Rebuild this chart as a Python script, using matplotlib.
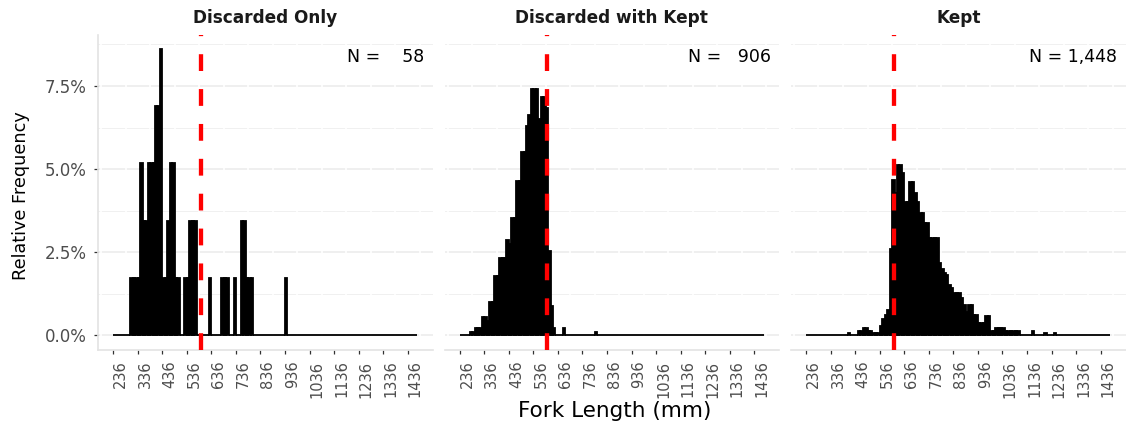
import matplotlib.pyplot as plt
import numpy as np

plt.rcParams['font.family'] = 'DejaVu Sans'

# histogram bins: 10 mm wide, starting at 236 mm
bin_start = 236
bin_width = 10
n_bins = 124

panel_titles = ["Discarded Only", "Discarded with Kept", "Kept"]
n_labels = ["N =    58", "N =   906", "N = 1,448"]
cutoff_mm = 593

x_ticks = [236, 336, 436, 536, 636, 736, 836, 936, 1036, 1136, 1236, 1336, 1436]
y_ticks = [0, 2.5, 5.0, 7.5]
y_labels = ["0.0%", "2.5%", "5.0%", "7.5%"]

# relative frequency (%) by bin left edge (mm); bins not listed are 0
only_bins = [306, 316, 326, 336, 346, 356, 366, 376, 386, 396, 406, 416, 426,
             436, 446, 456, 466, 476, 486, 496, 526, 536, 546, 556, 566, 626,
             676, 686, 696, 726, 756, 766, 776, 786, 796, 936]
only_pct = [1.72, 1.72, 1.72, 1.72, 5.17, 3.45, 3.45, 5.17, 5.17, 5.17, 6.90, 6.90, 8.62,
            1.72, 1.72, 3.45, 5.17, 5.17, 1.72, 1.72, 1.72, 1.72, 3.45, 3.45, 3.45, 1.72,
            1.72, 1.72, 1.72, 1.72, 3.45, 3.45, 1.72, 1.72, 1.72, 1.72]

with_kept_bins = [276, 286, 296, 306, 316, 326, 336, 346, 356, 366, 376, 386, 396,
                  406, 416, 426, 436, 446, 456, 466, 476, 486, 496, 506, 516, 526,
                  536, 546, 556, 566, 576, 586, 596, 606, 616, 656, 786]
with_kept_pct = [0.11, 0.11, 0.22, 0.22, 0.22, 0.55, 0.55, 0.44, 0.99, 0.99, 1.77, 1.77, 2.32,
                 2.32, 2.32, 2.87, 2.76, 3.53, 3.53, 4.64, 4.64, 5.52, 5.52, 6.29, 6.62, 7.40,
                 7.40, 7.40, 6.51, 7.17, 7.17, 6.84, 2.54, 0.88, 0.22, 0.22, 0.11]

kept_bins = [406, 446, 456, 466, 476, 486, 496, 506, 516, 526, 536, 546, 556, 566,
             576, 586, 596, 606, 616, 626, 636, 646, 656, 666, 676, 686, 696, 706,
             716, 726, 736, 746, 756, 766, 776, 786, 796, 806, 816, 826, 836, 846,
             856, 866, 876, 886, 896, 906, 916, 926, 936, 946, 956, 966, 976, 986,
             996, 1006, 1016, 1026, 1036, 1046, 1056, 1066, 1076, 1086, 1096, 1156,
             1206, 1246]
kept_pct = [0.07, 0.14, 0.14, 0.21, 0.21, 0.14, 0.14, 0.07, 0.07, 0.07, 0.28, 0.48, 0.62, 0.76,
            2.60, 4.67, 4.27, 5.12, 5.12, 4.87, 4.02, 4.02, 4.62, 4.62, 4.27, 4.00, 3.67, 3.67,
            3.37, 3.37, 2.92, 2.92, 2.92, 2.92, 2.17, 2.00, 1.87, 1.82, 1.50, 1.41, 1.26, 1.26,
            1.26, 1.11, 0.90, 0.71, 0.91, 0.91, 0.61, 0.61, 0.36, 0.36, 0.36, 0.58, 0.58, 0.14,
            0.14, 0.21, 0.21, 0.21, 0.21, 0.14, 0.14, 0.14, 0.14, 0.14, 0.14, 0.14,
            0.07, 0.07]

series = [(only_bins, only_pct), (with_kept_bins, with_kept_pct), (kept_bins, kept_pct)]

W, H = 1126, 428
fig = plt.figure(figsize=(W / 100, H / 100), dpi=100)

panel_left = [98.1, 444.6, 791.0]
panel_w = 334.6
panel_top, panel_bottom = 34.5, 349.6

edges = bin_start + bin_width * np.arange(n_bins)

for i, (bins, pct) in enumerate(series):
    ax = fig.add_axes([panel_left[i] / W, 1 - panel_bottom / H,
                       panel_w / W, (panel_bottom - panel_top) / H])
    heights = np.zeros(n_bins)
    for b, p in zip(bins, pct):
        heights[(b - bin_start) // bin_width] = p

    ax.bar(edges, heights, width=bin_width, align='edge', color='black',
           edgecolor='black', linewidth=1.3, zorder=2)
    ax.axvline(cutoff_mm, color='red', lw=3.1, dashes=(3.9, 4.2), zorder=3)

    ax.set_xlim(174, 1538)
    ax.set_ylim(-0.43, 9.05)

    # grid
    ax.set_yticks(y_ticks)
    ax.set_yticks([1.25, 3.75, 6.25, 8.75], minor=True)
    ax.set_axisbelow(True)
    ax.grid(axis='y', which='major', color='#EBEBEB', lw=1.1)
    ax.grid(axis='y', which='minor', color='#F0F0F0', lw=0.7)
    for xg in np.arange(186, 1537, 100):
        ax.axvline(xg, color='white', lw=1.2, zorder=1)

    for s in ['top', 'right']:
        ax.spines[s].set_visible(False)
    ax.spines['bottom'].set_color('#E3E3E3')
    ax.spines['bottom'].set_linewidth(1.2)
    ax.spines['left'].set_color('#E3E3E3')
    ax.spines['left'].set_linewidth(1.2)

    ax.set_xticks(x_ticks)
    ax.set_xticklabels([str(t) for t in x_ticks])
    ax.tick_params(axis='x', length=2.9, width=0.9, color='#333333',
                   labelsize=10.5, labelcolor='#4D4D4D', pad=5)
    for lbl in ax.get_xticklabels():
        lbl.set_rotation(90)
        lbl.set_ha('left')
        lbl.set_va('top')
    ax.tick_params(axis='y', which='minor', left=False)

    if i == 0:
        ax.set_yticklabels(y_labels)
        ax.tick_params(axis='y', length=2.9, width=0.9, color='#333333',
                       labelsize=12, labelcolor='#4D4D4D', pad=5.4)
    else:
        ax.spines['left'].set_visible(False)
        ax.tick_params(axis='y', left=False, labelleft=False)

    ax.text(1 - 8.6 / panel_w, (panel_bottom - 62) / (panel_bottom - panel_top),
            n_labels[i], transform=ax.transAxes, ha='right', va='baseline',
            fontsize=12.5, color='black')

    fig.text((panel_left[i] + panel_w / 2) / W, 1 - 18 / H, panel_titles[i],
             ha='center', va='center', fontsize=12.2, fontweight='bold', color='#1A1A1A')

fig.text(21 / W, 1 - 196 / H, "Relative Frequency", rotation=90,
         ha='center', va='center', fontsize=12.7)
fig.text(615 / W, 1 - 411 / H, "Fork Length (mm)", ha='center', va='center', fontsize=15.5)

fig.savefig("out.png", dpi=100, facecolor='white')
